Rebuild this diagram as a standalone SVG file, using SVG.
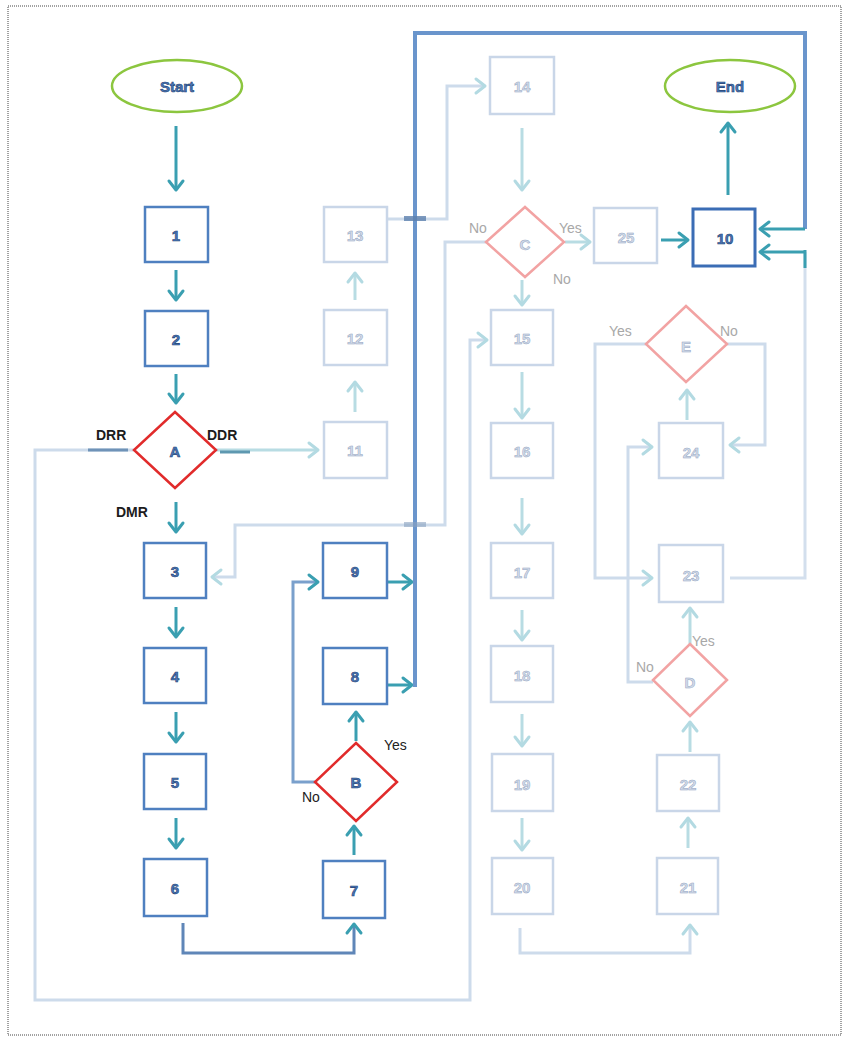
<svg xmlns="http://www.w3.org/2000/svg" width="844" height="1037" viewBox="0 0 844 1037">
  <style>
    .box{fill:#fff;stroke:#4f80c0;stroke-width:2.5}
    .box10{fill:#fff;stroke:#3b6db5;stroke-width:3}
    .fbox{fill:#fff;stroke:#c9d6e8;stroke-width:2.5}
    .dia{fill:#fff;stroke:#e12b2b;stroke-width:2.5}
    .fdia{fill:#fff;stroke:#f2a3a3;stroke-width:2.5}
    .term{fill:#fff;stroke:#8cc63f;stroke-width:2.5}
    .num{font-family:"Liberation Sans",Arial,sans-serif;font-weight:bold;font-size:15px;fill:#4a78b8;stroke:#1f3f72;stroke-width:0.6;text-anchor:middle;dominant-baseline:central}
    .fnum{font-family:"Liberation Sans",Arial,sans-serif;font-weight:bold;font-size:15px;fill:#d3dcea;stroke:#95a6c2;stroke-width:0.5;text-anchor:middle;dominant-baseline:central}
    .lbl{font-family:"Liberation Sans",Arial,sans-serif;font-weight:bold;font-size:14px;fill:#1c1c1c}
    .yn{font-family:"Liberation Sans",Arial,sans-serif;font-size:14px;fill:#222}
    .fyn{font-family:"Liberation Sans",Arial,sans-serif;font-size:14px;fill:#a8a8a8}
    .ca{fill:none;stroke:#3a9fb1;stroke-width:3;marker-end:url(#ah)}
    .fa{fill:none;stroke:#cddbeb;stroke-width:3;marker-end:url(#fah)}
    .fat{fill:none;stroke:#b8dce3;stroke-width:3;marker-end:url(#fah)}
    .fl{fill:none;stroke:#d3dfed;stroke-width:3}
    .tb{fill:none;stroke:#6a95cc;stroke-width:4}
  </style>
  <defs>
    <marker id="ah" viewBox="0 0 12 16" refX="10" refY="8" markerWidth="12" markerHeight="16" markerUnits="userSpaceOnUse" orient="auto" overflow="visible">
      <path d="M1,1 L10,8 L1,15" fill="none" stroke="#3a9fb1" stroke-width="3" stroke-linecap="round" stroke-linejoin="round"/>
    </marker>
    <marker id="fah" viewBox="0 0 12 16" refX="10" refY="8" markerWidth="12" markerHeight="16" markerUnits="userSpaceOnUse" orient="auto" overflow="visible">
      <path d="M1,1 L10,8 L1,15" fill="none" stroke="#b3dae2" stroke-width="3" stroke-linecap="round" stroke-linejoin="round"/>
    </marker>
  </defs>

  <!-- page frame -->
  <rect x="8" y="6" width="833" height="1029" fill="#fff" stroke="#444" stroke-width="1" stroke-dasharray="1,1"/>

  <!-- connectors -->
  <g id="connectors">
    <!-- faded branch lines -->
    <path class="fa" d="M134,450 H35 V1000 H470 V340 H487"/>
    <path class="fa" d="M486,242 H445 V525 H235 V577 H212"/>
    <path class="fat" d="M215,450 H318"/>
    <path class="fat" d="M355,412 V382"/>
    <path class="fat" d="M355,300 V273"/>
    <path class="fa" d="M387,219 H447 V86 H485"/>
    <path class="fat" d="M522,128 V190"/>
    <path class="fat" d="M565,242 H590"/>
    <path class="fat" d="M522,280 V305"/>
    <path class="fat" d="M522,372 V418"/>
    <path class="fat" d="M522,498 V534"/>
    <path class="fat" d="M522,610 V640"/>
    <path class="fat" d="M522,714 V746"/>
    <path class="fat" d="M522,818 V850"/>
    <path class="fa" d="M520,928 V953 H690 V925"/>
    <path class="fat" d="M688,848 V818"/>
    <path class="fat" d="M690,752 V722"/>
    <path class="fat" d="M690,644 V608"/>
    <path class="fa" d="M653,682 H628 V447 H652"/>
    <path class="fat" d="M687,420 V390"/>
    <path class="fa" d="M646,344 H595 V578 H652"/>
    <path class="fa" d="M727,344 H765 V445 H730"/>
    <path class="fl" d="M730,578 H805 V252"/>
    <!-- darker stubs where the faded lines leave A -->
    <path d="M88,450 H128" stroke="#6f93b8" stroke-width="3" fill="none"/>
    <path d="M220,452 H250" stroke="#5e98b0" stroke-width="3" fill="none"/>

    <!-- main flow -->
    <path class="ca" d="M176,126 V190"/>
    <path class="ca" d="M176,270 V300"/>
    <path class="ca" d="M176,374 V403"/>
    <path class="ca" d="M176,502 V532"/>
    <path class="ca" d="M176,607 V637"/>
    <path class="ca" d="M176,712 V742"/>
    <path class="ca" d="M176,818 V848"/>
    <path d="M183,923 V953 H354 V924" fill="none" stroke="#5f86b8" stroke-width="3" marker-end="url(#ah)"/>
    <path class="ca" d="M354,855 V826"/>
    <path class="ca" d="M356,741 V712"/>
    <path d="M315,782 H293 V582 H318" fill="none" stroke="#7aa0cc" stroke-width="3" marker-end="url(#ah)"/>
    <path class="ca" d="M388,582 H412"/>
    <path class="ca" d="M388,685 H412"/>
    <path class="tb" d="M415,687 V33 H805 V229"/>
    <path class="ca" d="M805,229 H760"/>
    <path class="ca" d="M805,252 H760"/>
    <path d="M805,250 V268" stroke="#3a9fb1" stroke-width="3" fill="none"/>
    <path class="ca" d="M661,240 H688"/>
    <path class="ca" d="M728,195 V123"/>
    <!-- crossing marks on the thick line -->
    <rect x="404" y="216" width="22" height="5" fill="#5c7fae" opacity="0.8"/>
    <rect x="404" y="522" width="22" height="5" fill="#8aa2c0" opacity="0.6"/>
  </g>

  <!-- nodes -->
  <g id="start"><ellipse class="term" cx="177" cy="86" rx="65" ry="26"/><text class="num" x="177" y="86">Start</text></g>
  <g id="end"><ellipse class="term" cx="730" cy="86" rx="65" ry="26"/><text class="num" x="730" y="86">End</text></g>

  <g id="n1"><rect class="box" x="145" y="207" width="63" height="55"/><text class="num" x="176" y="235">1</text></g>
  <g id="n2"><rect class="box" x="145" y="311" width="63" height="55"/><text class="num" x="176" y="339">2</text></g>
  <g id="nA"><polygon class="dia" points="175,412 216,450 175,488 134,450"/><text class="num" x="175" y="451">A</text></g>
  <g id="n3"><rect class="box" x="144" y="543" width="62" height="55"/><text class="num" x="175" y="571">3</text></g>
  <g id="n4"><rect class="box" x="144" y="648" width="62" height="55"/><text class="num" x="175" y="676">4</text></g>
  <g id="n5"><rect class="box" x="144" y="754" width="62" height="55"/><text class="num" x="175" y="782">5</text></g>
  <g id="n6"><rect class="box" x="144" y="859" width="63" height="57"/><text class="num" x="175" y="888">6</text></g>
  <g id="n7"><rect class="box" x="323" y="861" width="62" height="57"/><text class="num" x="354" y="890">7</text></g>
  <g id="nB"><polygon class="dia" points="356,743 397,782 356,821 315,782"/><text class="num" x="356" y="782">B</text></g>
  <g id="n8"><rect class="box" x="323" y="648" width="64" height="56"/><text class="num" x="355" y="676">8</text></g>
  <g id="n9"><rect class="box" x="323" y="543" width="64" height="55"/><text class="num" x="355" y="571">9</text></g>

  <g id="n11"><rect class="fbox" x="324" y="422" width="63" height="56"/><text class="fnum" x="355" y="450">11</text></g>
  <g id="n12"><rect class="fbox" x="324" y="310" width="63" height="55"/><text class="fnum" x="355" y="338">12</text></g>
  <g id="n13"><rect class="fbox" x="324" y="207" width="63" height="55"/><text class="fnum" x="355" y="235">13</text></g>
  <g id="n14"><rect class="fbox" x="490" y="57" width="64" height="57"/><text class="fnum" x="522" y="86">14</text></g>
  <g id="nC"><polygon class="fdia" points="525,207 564,242 525,277 486,242"/><text class="fnum" x="525" y="244">C</text></g>
  <g id="n25"><rect class="fbox" x="594" y="208" width="63" height="55"/><text class="fnum" x="626" y="237">25</text></g>
  <g id="n10"><rect class="box10" x="693" y="209" width="62" height="57"/><text class="num" x="725" y="238">10</text></g>

  <g id="n15"><rect class="fbox" x="491" y="310" width="62" height="55"/><text class="fnum" x="522" y="338">15</text></g>
  <g id="n16"><rect class="fbox" x="491" y="423" width="62" height="55"/><text class="fnum" x="522" y="451">16</text></g>
  <g id="n17"><rect class="fbox" x="491" y="543" width="62" height="55"/><text class="fnum" x="522" y="572">17</text></g>
  <g id="n18"><rect class="fbox" x="491" y="646" width="62" height="56"/><text class="fnum" x="522" y="675">18</text></g>
  <g id="n19"><rect class="fbox" x="492" y="754" width="61" height="57"/><text class="fnum" x="522" y="784">19</text></g>
  <g id="n20"><rect class="fbox" x="492" y="858" width="61" height="56"/><text class="fnum" x="522" y="887">20</text></g>
  <g id="n21"><rect class="fbox" x="657" y="858" width="61" height="56"/><text class="fnum" x="688" y="887">21</text></g>
  <g id="n22"><rect class="fbox" x="657" y="755" width="62" height="56"/><text class="fnum" x="688" y="784">22</text></g>
  <g id="nD"><polygon class="fdia" points="690,644 727,680 690,716 653,680"/><text class="fnum" x="690" y="682">D</text></g>
  <g id="n23"><rect class="fbox" x="659" y="545" width="64" height="57"/><text class="fnum" x="691" y="575">23</text></g>
  <g id="n24"><rect class="fbox" x="659" y="423" width="64" height="55"/><text class="fnum" x="691" y="452">24</text></g>
  <g id="nE"><polygon class="fdia" points="686,306 727,344 686,382 646,344"/><text class="fnum" x="686" y="346">E</text></g>

  <!-- branch labels -->
  <g id="labels">
    <text class="lbl" x="96" y="440">DRR</text>
    <text class="lbl" x="207" y="440">DDR</text>
    <text class="lbl" x="116" y="517">DMR</text>
    <text class="yn" x="384" y="750">Yes</text>
    <text class="yn" x="302" y="802">No</text>
    <text class="fyn" x="469" y="233">No</text>
    <text class="fyn" x="559" y="233">Yes</text>
    <text class="fyn" x="553" y="284">No</text>
    <text class="fyn" x="609" y="336">Yes</text>
    <text class="fyn" x="720" y="336">No</text>
    <text class="fyn" x="692" y="646">Yes</text>
    <text class="fyn" x="636" y="672">No</text>
  </g>
</svg>
